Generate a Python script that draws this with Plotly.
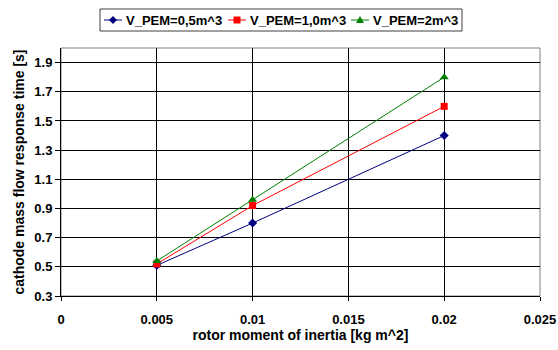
import plotly.graph_objects as go

# rotor moment of inertia [kg m^2]
inertia = [0.005, 0.01, 0.02]

# cathode mass flow response time [s] for each PEM volume
t_pem_05 = [0.51, 0.80, 1.40]
t_pem_10 = [0.52, 0.92, 1.60]
t_pem_20 = [0.54, 0.96, 1.80]

series_names = ["V_PEM=0,5m^3", "V_PEM=1,0m^3", "V_PEM=2m^3"]
series_colors = ["#000080", "#FF0000", "#008000"]
series_symbols = ["diamond", "square", "triangle-up"]
series_sizes = [7, 7, 8]

x_ticks = [0, 0.005, 0.01, 0.015, 0.02, 0.025]
x_labels = ["0", "0.005", "0.01", "0.015", "0.02", "0.025"]
y_ticks = [0.3, 0.5, 0.7, 0.9, 1.1, 1.3, 1.5, 1.7, 1.9]
y_labels = ["0.3", "0.5", "0.7", "0.9", "1.1", "1.3", "1.5", "1.7", "1.9"]

W, H = 558, 350
ML, MR, MT, MB = 61, 18, 48, 54
PW, PH = W - ML - MR, H - MT - MB

font_family = "Liberation Sans, Arial, sans-serif"

fig = go.Figure()
for name, ys, col, sym, sz in zip(series_names, [t_pem_05, t_pem_10, t_pem_20],
                                  series_colors, series_symbols, series_sizes):
    fig.add_trace(go.Scatter(
        x=inertia, y=ys, name=name, mode="lines+markers",
        line=dict(color=col, width=1),
        marker=dict(symbol=sym, size=sz, color=col),
        showlegend=False,
    ))


# pixel -> paper-fraction helpers for the boxed legend above the plot
def fx(px):
    return (px - ML) / PW


def fy(py):
    return (MT + PH - py) / PH


# small marker glyphs for the legend, in pixels around an anchor point
glyph_paths = {
    "diamond": "M0,4 L4,0 L0,-4 L-4,0 Z",
    "square": "M-3.5,-3.5 L3.5,-3.5 L3.5,3.5 L-3.5,3.5 Z",
    "triangle-up": "M-4,-3 L4,-3 L0,4 Z",
}

shapes = [dict(type="rect", xref="paper", yref="paper", x0=0, y0=0, x1=1, y1=1,
               line=dict(color="#808080", width=1), layer="below")]
annotations = []

legend_left, legend_right = 100, 462
legend_top, legend_bottom = 9, 31
legend_mid = (legend_top + legend_bottom) / 2
entry_starts = [104, 228, 351]
sample_len = 18

shapes.append(dict(type="rect", xref="paper", yref="paper",
                   x0=fx(legend_left), x1=fx(legend_right),
                   y0=fy(legend_bottom), y1=fy(legend_top),
                   line=dict(color="#404040", width=1), fillcolor="white"))

for start, name, col, sym in zip(entry_starts, series_names, series_colors, series_symbols):
    shapes.append(dict(type="line", xref="paper", yref="paper",
                       x0=fx(start), x1=fx(start + sample_len),
                       y0=fy(legend_mid), y1=fy(legend_mid),
                       line=dict(color=col, width=1)))
    shapes.append(dict(type="path", xref="paper", yref="paper",
                       xsizemode="pixel", ysizemode="pixel",
                       xanchor=fx(start + sample_len / 2), yanchor=fy(legend_mid),
                       path=glyph_paths[sym], fillcolor=col,
                       line=dict(color=col, width=0)))
    annotations.append(dict(text=name, xref="paper", yref="paper",
                            x=fx(start + sample_len + 2), y=fy(legend_mid),
                            xanchor="left", yanchor="middle", showarrow=False,
                            font=dict(family=font_family, size=13, color="black",
                                      weight="bold")))

fig.update_layout(
    width=W, height=H,
    margin=dict(l=ML, r=MR, t=MT, b=MB),
    paper_bgcolor="white", plot_bgcolor="white",
    font=dict(family=font_family, size=13, color="black"),
    showlegend=False,
    xaxis=dict(
        range=[0, 0.025], tickvals=x_ticks, ticktext=x_labels,
        showgrid=True, gridcolor="black", gridwidth=1,
        showline=True, linecolor="black", linewidth=1,
        ticks="outside", ticklen=4, tickcolor="black",
        ticklabelstandoff=7, automargin=False,
        tickfont=dict(family=font_family, size=13, weight="bold"),
        title=dict(text="rotor moment of inertia [kg m^2]", standoff=4,
                   font=dict(family=font_family, size=14, weight="bold")),
        zeroline=False,
    ),
    yaxis=dict(
        range=[0.3, 2.0], tickvals=y_ticks, ticktext=y_labels,
        showgrid=True, gridcolor="black", gridwidth=1,
        showline=True, linecolor="black", linewidth=1,
        ticks="outside", ticklen=5, tickcolor="black", automargin=False,
        tickfont=dict(family=font_family, size=13, weight="bold"),
        title=dict(text="cathode mass flow response time [s]", standoff=6,
                   font=dict(family=font_family, size=14, weight="bold")),
        zeroline=False,
    ),
    shapes=shapes,
    annotations=annotations,
)

fig.write_html("out.html")
